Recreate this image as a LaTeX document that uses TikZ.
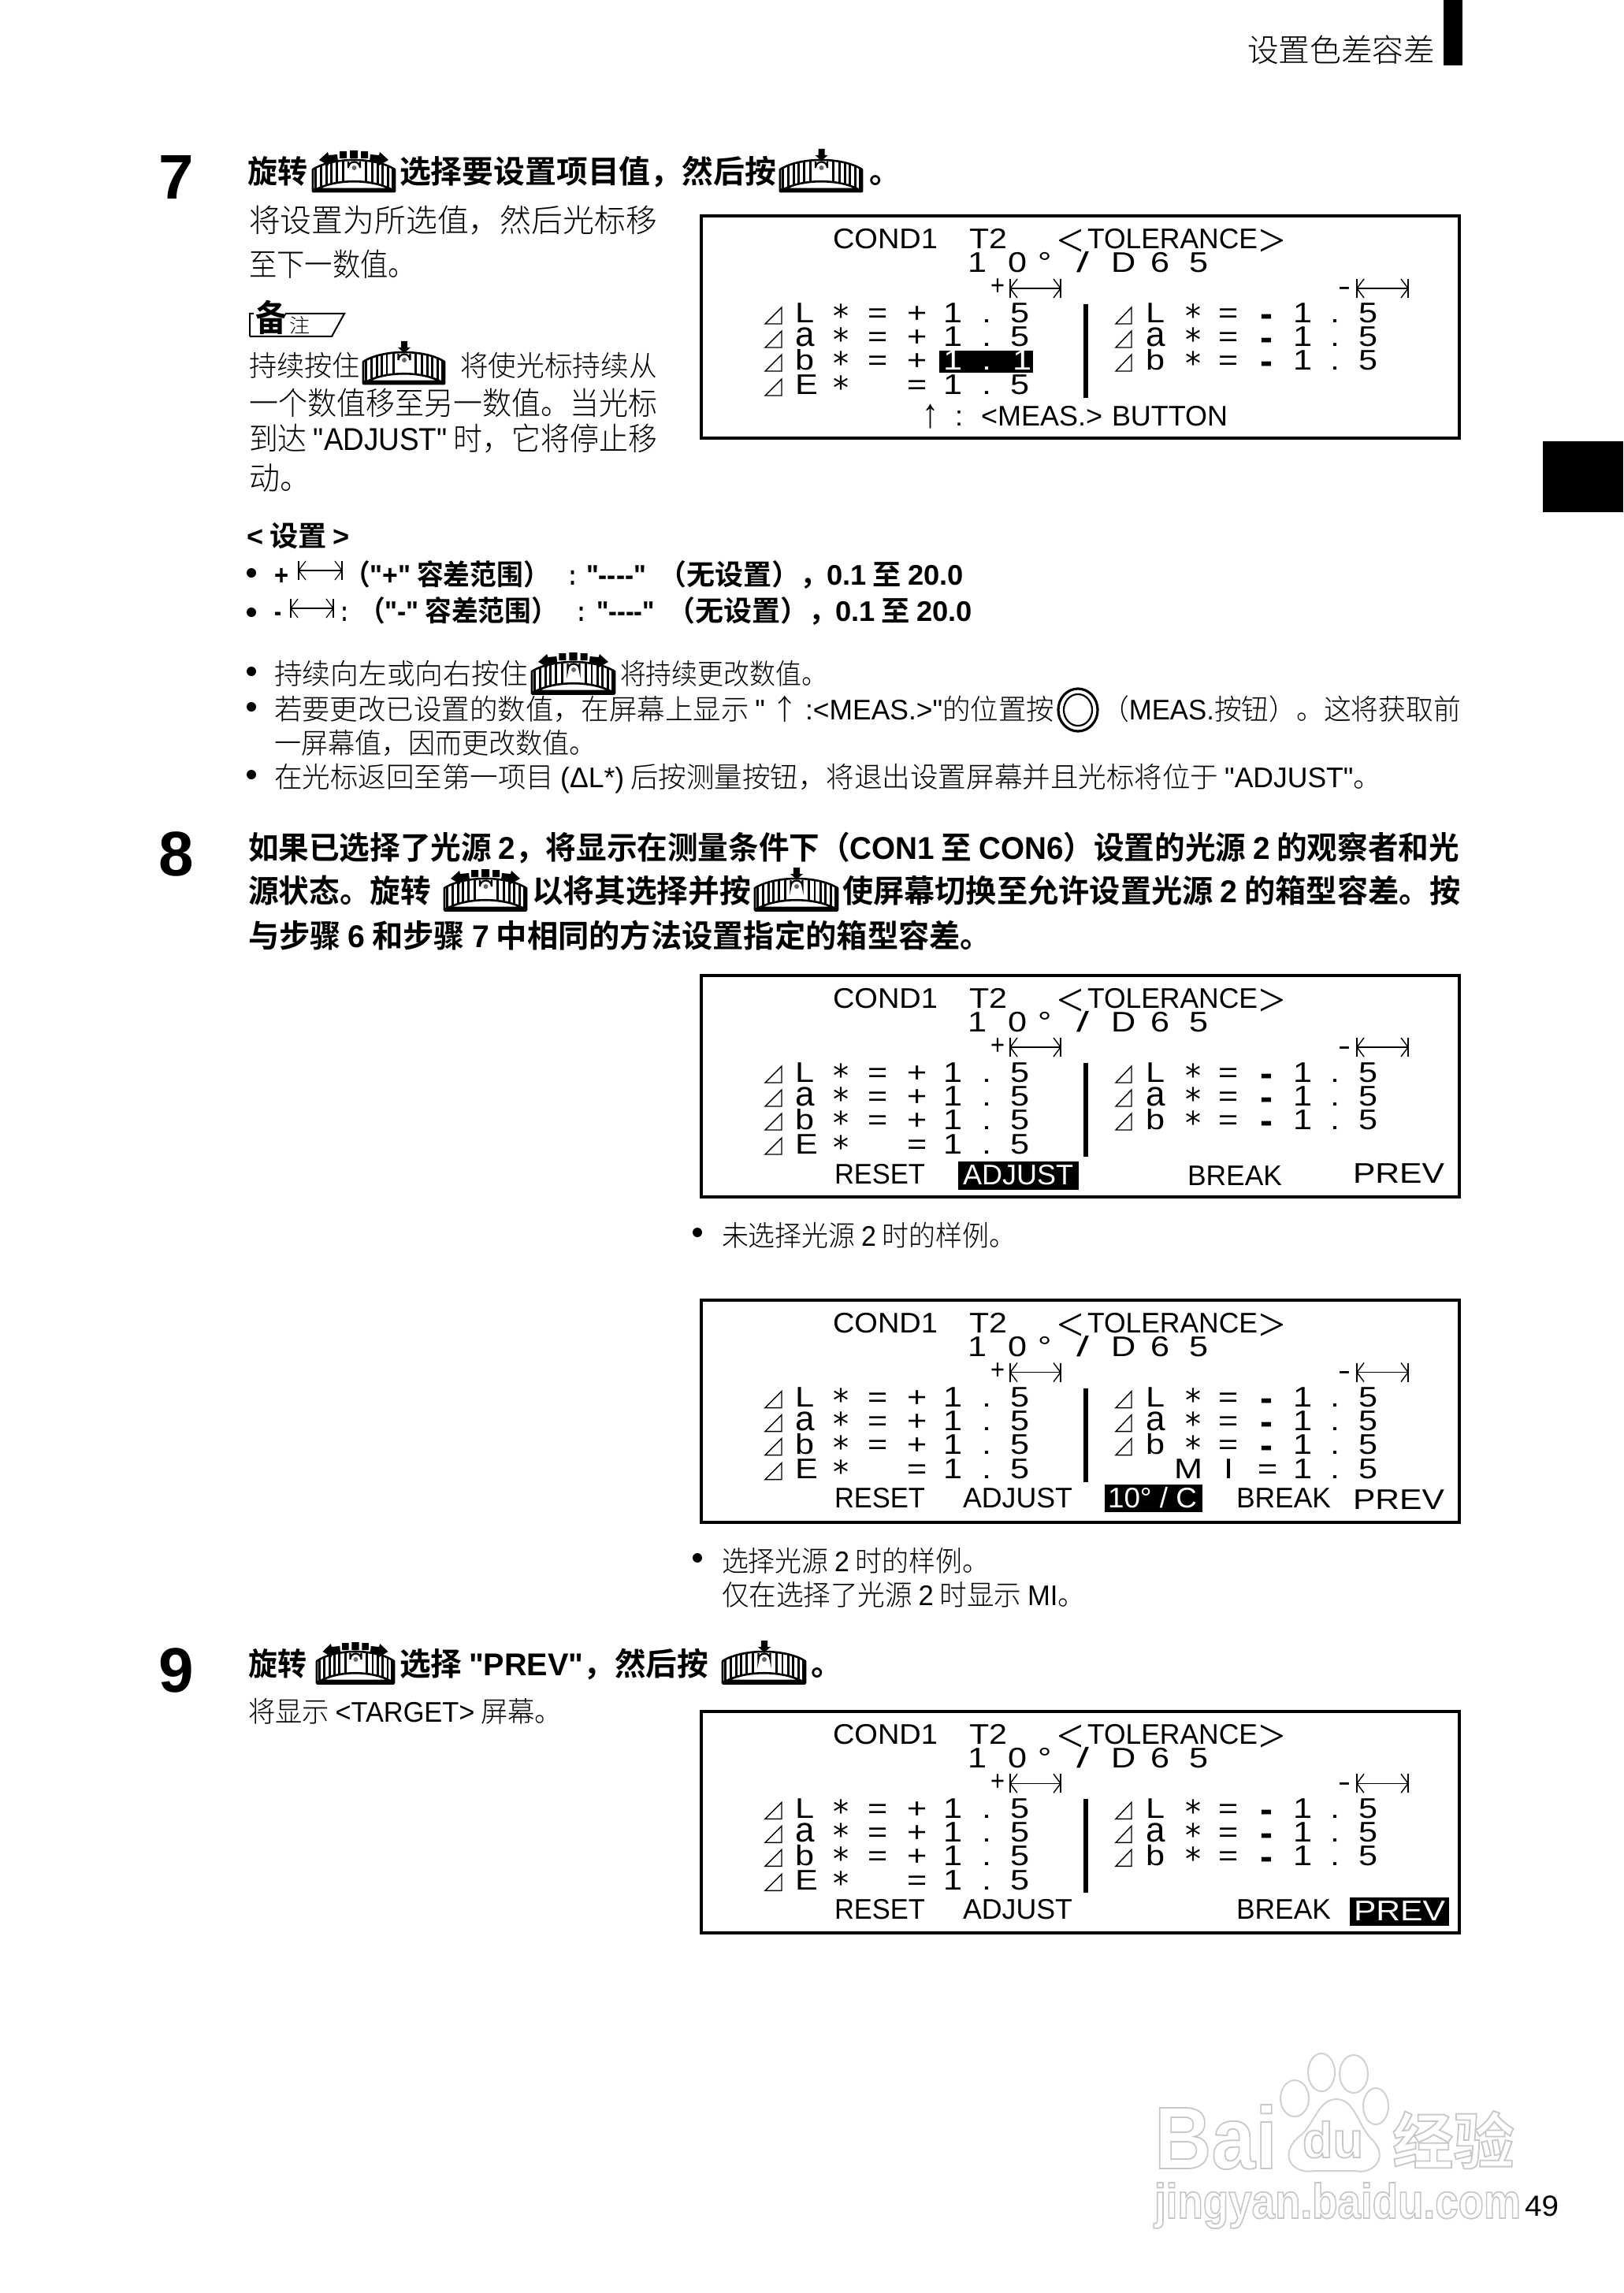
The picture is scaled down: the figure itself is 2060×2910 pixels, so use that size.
\documentclass[tikz,border=0pt]{standalone}
\usepackage{fontspec}
\usepackage{graphicx}
\setmainfont{Noto Sans CJK SC Light}[BoldFont=Noto Sans CJK SC Bold]
\newfontfamily\latinf{Liberation Sans}
\newfontfamily\latins{Liberation Serif}
\newfontfamily\latind{DejaVu Sans}
\newcommand\La[1]{{\latinf #1}}
\newcount\tcnt
\tikzset{
 tx/.style={inner sep=0pt,outer sep=0pt,anchor=base west},
 hd/.style={font=\bfseries\fontsize{20}{22}\selectfont},
 bda/.style={font=\bfseries\fontsize{18}{20}\selectfont},
 bfa/.style={font=\fontsize{20}{22}\selectfont},
 bfb/.style={font=\fontsize{18}{20}\selectfont},
 num/.style={font=\latinf\bfseries\fontsize{40}{44}\selectfont},
 scr/.style={font=\latinf\fontsize{18}{20}\selectfont},
 scra/.style={font=\latinf\fontsize{22}{24}\selectfont},
 scrw/.style={font=\latinf\fontsize{18}{20}\selectfont,text=white},
 ast/.style={font=\latind\fontsize{20}{22}\selectfont},
 mns/.style={font=\latinf\bfseries\fontsize{24}{26}\selectfont},
 chev/.style={font=\latins\fontsize{30}{32}\selectfont},
 wm/.style={text=black!22},
 wmline/.style={draw=black!18,line width=1pt},
 hair/.style={line width=0.7pt,line cap=butt},
 bar/.style={line width=3pt},
 box/.style={draw=black,line width=2pt},
}
\newcommand\txtl[5][]{\pgfmathsetlengthmacro\tw{#4*0.5pt}\global\advance\tcnt by 1
 \node[tx,#1] (t\the\tcnt) at (#2,#3) {\resizebox*{\tw}{\totalheight}{#5}};}
\newcommand\ch[4][scr]{\global\advance\tcnt by 1
 \node[tx,#1] (t\the\tcnt) at (#2,#3) {#4};}
\newcommand\cs[4][scr]{\global\advance\tcnt by 1
 \node[tx,#1] (t\the\tcnt) at (#2,#3) {\scalebox{1.2}[1]{#4}};}
\newcommand\outl[1]{\special{pdf:code 1 Tr 0.9 w}#1\special{pdf:code 0 Tr}}
% tolerance symbol: left x, top y, width
\newcommand\tolicon[4][0.7pt]{\begin{scope}[shift={(#2,#3)},line width=#1]
 \draw (0,0)--(0,24) (#4,0)--(#4,24) (0,12)--(#4,12);
 \draw (9,0)--(0,12)--(9,24);
 \draw ({#4-9},0)--(#4,12)--({#4-9},24);
\end{scope}}
% dial: left x, dome-top y, width, arrows
\newcommand\dialbody{
 \fill[white] (0,40)--(0,12) .. controls (25,-4) and (79,-4) .. (104,12)--(104,40)--cycle;
 \begin{scope}
 \clip (0,40)--(0,12) .. controls (25,-4) and (79,-4) .. (104,12)--(104,40)--cycle;
 \foreach \u/\w in {2/3,9/3,16/3,22/3,29/2.5,37/3,66/3,74/2.5,81/3,87/3,94/3,100/3}{\fill (\u,0) rectangle ({\u+\w},40);}
 \end{scope}
 \draw[line width=1.3pt,line join=round] (0,40)--(0,12) .. controls (25,-4) and (79,-4) .. (104,12)--(104,40)--cycle;
 \fill[white,draw=black,line width=1.3pt] (5,37) .. controls (30,24) and (74,24) .. (99,37)--cycle;
 \fill (0,36.5) rectangle (104,41.5);
 \draw[line width=1.1pt] (45,2)--(45,10) arc[start angle=180,end angle=360,radius=7.5]--(60,2);
 \fill[black!60] (52.5,10) circle[radius=3];
}
\newcommand\dialR[3]{\begin{scope}[shift={(#1,#2)},xscale=#3/104]
 \dialbody
 \fill (34,-11) rectangle (43,-2) (47,-12) rectangle (57,-2) (61,-11) rectangle (70,-2);
 \fill (8,0)--(19,-10)--(20,-6)--(31,-7)--(32,2)--(20,3)--(20,7)--cycle;
 \fill (96,0)--(85,-10)--(84,-6)--(73,-7)--(72,2)--(84,3)--(84,7)--cycle;
\end{scope}}
\newcommand\dialP[3]{\begin{scope}[shift={(#1,#2)},xscale=#3/104]
 \dialbody
 \fill (48.5,-14) rectangle (56.5,-6) (44.5,-6)--(60.5,-6)--(52.5,1)--cycle;
\end{scope}}
\newcommand\rowleft[2]{
 \draw[hair] (971,#1+1)--(992,#1+1)--(992,#1-20)--cycle;
 \ch[ast]{1057}{#1+6}{*}
}
\newcommand\rowright[2]{
 \draw[hair] (1416,#1+1)--(1436,#1+1)--(1436,#1-20)--cycle;
 \ch[ast]{1504}{#1+6}{*}
 \cs{1546}{#1}{=}
 \ch[mns]{1599}{#1+5}{-}
 \cs{1641}{#1}{1}
 \cs{1688}{#1}{.}
 \cs{1724}{#1}{5}
}
% #1 dy, #2 third-row value mode (0 normal, 1 highlighted)
\newcommand\screenbox[2]{\begin{scope}[shift={(0,#1)}]
 \draw[box] (889.5,274.5) rectangle (1852,556);
 \txtl[scr]{1057}{316}{133}{COND1}
 \txtl[scr]{1230}{316}{48}{T2}
 \ch[chev]{1341}{326}{<}
 \txtl[scr]{1380}{316}{216}{TOLERANCE}
 \ch[chev]{1597}{326}{>}
 \cs{1228}{346}{1}
 \cs{1279}{346}{0}
 \cs{1317}{346}{°}
 \txtl[scr]{1366}{346}{16}{/}
 \cs{1410}{346}{D}
 \cs{1460}{346}{6}
 \cs{1509}{346}{5}
 \txtl[scr]{1257}{375}{18}{+}
 \tolicon{1282}{354}{64}
 \txtl[scr]{1698}{376}{16}{-}
 \tolicon{1722}{354}{65}
 \rowleft{410}{L}\cs{1009}{410}{L}
 \rowleft{440}{a}\ch[scra]{1009}{440}{a}
 \rowleft{470}{b}\cs{1009}{470}{b}
 \rowleft{501}{E}\cs{1009}{501}{E}
 \foreach \yy in {410,440,470}{\cs{1101}{\yy}{=}\cs{1151}{\yy}{+}}
 \foreach \yy in {410,440}{\cs{1197}{\yy}{1}\cs{1246}{\yy}{.}\cs{1282}{\yy}{5}}
 \ifnum#2=1
  \fill (1192,445) rectangle (1311,473);
  \cs[scrw]{1197}{470}{1}\cs[scrw]{1246}{470}{.}\cs[scrw]{1285}{470}{1}
 \else
  \cs{1197}{470}{1}\cs{1246}{470}{.}\cs{1282}{470}{5}
 \fi
 \cs{1151}{501}{=}\cs{1197}{501}{1}\cs{1246}{501}{.}\cs{1282}{501}{5}
 \draw[bar] (1378,386)--(1378,505);
 \rowright{410}{L}\cs{1454}{410}{L}
 \rowright{440}{a}\ch[scra]{1454}{440}{a}
 \rowright{470}{b}\cs{1454}{470}{b}
\end{scope}}
\newcommand\bul[2]{\fill (#1,#2) circle[radius=6];}
\begin{document}
\begin{tikzpicture}[x=0.5pt,y=-0.5pt]
\useasboundingbox (0,0) rectangle (2060,2910);
% page furniture
\fill (1832,0) rectangle (1856,83);
\fill (1958,560) rectangle (2060,650);
\txtl[bfa]{1583}{79}{238}{设置色差容差}
% watermark
\txtl[wm,font=\latinf\bfseries\fontsize{56}{58}\selectfont]{1465}{2752}{156}{\outl{Bai}}
\draw[wmline] (1643,2663) ellipse[x radius=18,y radius=23];
\draw[wmline] (1677,2630) ellipse[x radius=17,y radius=24];
\draw[wmline] (1718,2632) ellipse[x radius=18,y radius=24];
\draw[wmline] (1746,2673) ellipse[x radius=16,y radius=23];
\draw[wmline] (1696,2664) .. controls (1720,2664) and (1724,2700) .. (1742,2716) .. controls (1764,2740) and (1740,2760) .. (1720,2755) -- (1668,2755) .. controls (1640,2760) and (1622,2735) .. (1648,2712) .. controls (1668,2698) and (1672,2664) .. (1696,2664) -- cycle;
\txtl[wm,font=\latinf\bfseries\fontsize{32}{34}\selectfont]{1653}{2738}{77}{\outl{du}}
\txtl[wm,font=\bfseries\fontsize{39}{41}\selectfont]{1767}{2746}{155}{\outl{经验}}
\txtl[wm,font=\latinf\bfseries\fontsize{31}{33}\selectfont]{1465}{2815}{465}{\outl{jingyan.baidu.com}}
\txtl[scr,font=\latinf\fontsize{18.5}{20}\selectfont]{1935}{2812}{43}{49}
% step 7
\ch[num]{201}{253}{7}
\txtl[hd]{314}{233}{76}{旋转}
\dialR{397}{203}{104}
\txtl[hd]{507}{233}{478}{选择要设置项目值，然后按}
\dialP{990}{203}{104}
\txtl[hd]{1103}{233}{40}{。}
\txtl[bfa]{316}{295}{518}{将设置为所选值，然后光标移}
\txtl[bfa]{316}{351}{212}{至下一数值。}
% note tag
\draw[line width=1pt] (317,427)--(317,398)--(322,398) (362,398)--(437,398)--(421,427)--(317,427);
\txtl[font=\bfseries\fontsize{23}{25}\selectfont]{324}{421}{40}{备}
\txtl[font=\fontsize{12.5}{14}\selectfont]{367}{423}{26}{注}
\txtl[bfb]{316}{478}{141}{持续按住}
\dialP{461}{447}{103}
\txtl[bfb]{584}{478}{250}{将使光标持续从}
\txtl[bfa]{316}{526}{518}{一个数值移至另一数值。当光标}
\txtl[bfa]{316}{572}{518}{到达 \La{"ADJUST"} 时，它将停止移}
\txtl[bfa]{316}{621}{78}{动。}
\screenbox{0}{1}
\txtl[font=\latinf\fontsize{26}{28}\selectfont]{1170}{543}{21}{↑}
\txtl[scr]{1212}{540}{10}{:}
\txtl[scr]{1245}{540}{154}{<MEAS.>}
\txtl[scr]{1411}{540}{147}{BUTTON}
% settings
\txtl[bda]{313}{693}{131}{\La{<} 设置 \La{>}}
\bul{319}{727}
\txtl[bda]{348}{742}{18}{\La{+}}
\tolicon[0.6pt]{379}{712}{55}
\txtl[bda]{436}{742}{262}{（\La{"+"} 容差范围）}
\txtl[bda]{722}{742}{9}{\La{:}}
\txtl[bda]{744}{742}{76}{\La{"{-}{-}{-}{-}"}}
\txtl[bda]{835}{742}{216}{（无设置），}
\txtl[bda]{1049}{742}{174}{\La{0.1} 至 \La{20.0}}
\bul{319}{777}
\txtl[bda]{348}{788}{9}{\La{-}}
\tolicon[0.6pt]{369}{760}{54}
\txtl[bda]{433}{788}{8}{\La{:}}
\txtl[bda]{455}{788}{253}{（\La{"-"} 容差范围）}
\txtl[bda]{733}{788}{9}{\La{:}}
\txtl[bda]{757}{788}{74}{\La{"{-}{-}{-}{-}"}}
\txtl[bda]{846}{788}{216}{（无设置），}
\txtl[bda]{1060}{788}{174}{\La{0.1} 至 \La{20.0}}
\bul{319}{852}
\txtl[bfb]{348}{868}{322}{持续向左或向右按住}
\dialR{675}{840}{105}
\txtl[bfb]{787}{868}{263}{将持续更改数值。}
\bul{319}{897}
\txtl[bfb]{348}{913}{990}{若要更改已设置的数值，在屏幕上显示 \La{"} ↑ \La{:<MEAS.>"}的位置按}
\draw[line width=1.6pt] (1368,901) ellipse[x radius=25,y radius=27];
\draw[line width=1.1pt] (1368,901) ellipse[x radius=18,y radius=20];
\txtl[bfb]{1398}{913}{456}{（\La{MEAS.}按钮）。这将获取前}
\txtl[bfb]{348}{956}{409}{一屏幕值，因而更改数值。}
\bul{319}{983}
\txtl[bfb]{348}{999}{1405}{在光标返回至第一项目 \La{(ΔL*)} 后按测量按钮，将退出设置屏幕并且光标将位于 \La{"ADJUST"}。}
% step 8
\ch[num]{201}{1111}{8}
\txtl[hd]{315}{1090}{1537}{如果已选择了光源 \La{2}，将显示在测量条件下（\La{CON1} 至 \La{CON6}）设置的光源 \La{2} 的观察者和光}
\txtl[hd]{315}{1145}{232}{源状态。旋转}
\dialR{564}{1115}{104}
\txtl[hd]{675}{1145}{278}{以将其选择并按}
\dialP{958}{1115}{105}
\txtl[hd]{1069}{1145}{785}{使屏幕切换至允许设置光源 \La{2} 的箱型容差。按}
\txtl[hd]{315}{1202}{943}{与步骤 \La{6} 和步骤 \La{7} 中相同的方法设置指定的箱型容差。}
% screen 2
\screenbox{963}{0}
\txtl[scr]{1059}{1502}{115}{RESET}
\fill (1216,1474) rectangle (1369,1510);
\txtl[scrw]{1222}{1503}{140}{ADJUST}
\txtl[scr]{1507}{1504}{120}{BREAK}
\txtl[scr]{1717}{1501}{116}{PREV}
\bul{885}{1564}
\txtl[bfb]{916}{1581}{373}{未选择光源 \La{2} 时的样例。}
% screen 3
\screenbox{1375.6}{0}
\cs{1490}{1876}{M}
\cs{1553}{1876}{I}
\cs{1596}{1876}{=}
\cs{1641}{1876}{1}
\cs{1688}{1876}{.}
\cs{1724}{1876}{5}
\txtl[scr]{1059}{1913}{115}{RESET}
\txtl[scr]{1222}{1913}{139}{ADJUST}
\fill (1402,1884) rectangle (1526,1919);
\txtl[scrw]{1406}{1913}{113}{10° / C}
\txtl[scr]{1569}{1913}{120}{BREAK}
\txtl[scr]{1717}{1915}{116}{PREV}
\bul{885}{1977}
\txtl[bfb]{916}{1994}{339}{选择光源 \La{2} 时的样例。}
\txtl[bfb]{916}{2037}{461}{仅在选择了光源 \La{2} 时显示 \La{MI}。}
% step 9
\ch[num]{201}{2147}{9}
\txtl[hd]{315}{2126}{74}{旋转}
\dialR{402}{2096}{98}
\txtl[hd]{507}{2126}{392}{选择 \La{"PREV"}，然后按}
\dialP{917}{2096}{105}
\txtl[hd]{1029}{2126}{40}{。}
\txtl[bfb]{315}{2185}{398}{将显示 \La{<TARGET>} 屏幕。}
% screen 4
\screenbox{1897.3}{0}
\txtl[scr]{1059}{2435}{115}{RESET}
\txtl[scr]{1222}{2435}{139}{ADJUST}
\txtl[scr]{1569}{2435}{120}{BREAK}
\fill (1713,2408) rectangle (1839,2444);
\txtl[scrw]{1718}{2437}{116}{PREV}
\end{tikzpicture}
\end{document}
